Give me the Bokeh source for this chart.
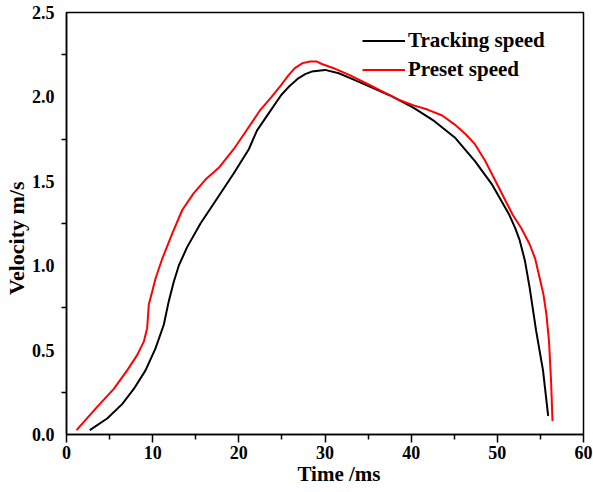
from bokeh.plotting import figure
from bokeh.embed import file_html
from bokeh.resources import INLINE
from bokeh.models import Legend, LegendItem, FixedTicker, PrintfTickFormatter

# Preset speed (red)
preset_t = [1.16, 3.56, 5.49, 7.04, 8.2, 8.97, 9.36, 9.55, 9.94, 10.33, 11.1, 12.27, 13.43, 14.77,
            16.13, 17.67, 19.4, 21.0, 22.53, 23.8, 24.9, 25.8, 26.5, 27.4, 28.26, 29.0, 29.64,
            31.0, 32.8, 35.0, 37.15, 38.7, 40.3, 41.9, 43.6, 45.06, 46.3, 47.4, 48.6, 49.8,
            50.8, 51.8, 52.8, 53.75, 54.4, 54.9, 55.35, 55.7, 56.0, 56.25, 56.4]
preset_v = [0.026, 0.164, 0.27, 0.38, 0.47, 0.55, 0.63, 0.77, 0.845, 0.924, 1.04, 1.19, 1.33, 1.43,
            1.51, 1.58, 1.69, 1.81, 1.925, 2.0, 2.07, 2.13, 2.17, 2.20, 2.21, 2.21, 2.195,
            2.17, 2.13, 2.075, 2.02, 1.98, 1.95, 1.925, 1.89, 1.836, 1.78, 1.72, 1.62, 1.50,
            1.40, 1.30, 1.22, 1.127, 1.04, 0.93, 0.83, 0.71, 0.55, 0.30, 0.08]

# Tracking speed (black)
track_t = [2.7, 4.72, 6.46, 7.81, 9.17, 10.33, 11.29, 11.87, 12.45, 13.03, 14.0, 15.55, 17.5,
           19.4, 21.16, 22.1, 23.5, 24.9, 25.9, 26.9, 27.7, 28.46, 30.0, 31.6, 33.2, 34.8,
           37.5, 40.3, 42.7, 45.06, 47.4, 49.4, 51.4, 52.1, 52.6, 53.2, 53.75, 54.5, 55.3, 55.9]
track_v = [0.026, 0.095, 0.18, 0.27, 0.38, 0.51, 0.65, 0.79, 0.905, 1.00, 1.11, 1.25, 1.40,
           1.546, 1.69, 1.80, 1.905, 2.01, 2.065, 2.11, 2.135, 2.15, 2.16, 2.14, 2.105, 2.07,
           2.01, 1.935, 1.856, 1.76, 1.62, 1.48, 1.30, 1.22, 1.15, 1.03, 0.87, 0.615, 0.38, 0.11]

x_ticks = [0, 10, 20, 30, 40, 50, 60]
x_minor = [5, 15, 25, 35, 45, 55]
y_ticks = [0.0, 0.5, 1.0, 1.5, 2.0, 2.5]
y_minor = [0.25, 0.75, 1.25, 1.75, 2.25]

FONT = "Liberation Serif"

p = figure(output_backend="svg", toolbar_location=None,
           x_range=(0, 60), y_range=(0, 2.5),
           frame_width=517, frame_height=422,
           min_border_left=58, min_border_right=10, min_border_top=12, min_border_bottom=56)
p.grid.visible = False
p.outline_line_color = "black"
p.outline_line_width = 1.5
p.background_fill_color = "white"
p.border_fill_color = "white"

r_track = p.line(track_t, track_v, line_color="black", line_width=2, line_join="round")
r_pre = p.line(preset_t, preset_v, line_color="#ff0000", line_width=2, line_join="round")

# X axis
xa = p.xaxis[0]
xa.ticker = FixedTicker(ticks=x_ticks, minor_ticks=x_minor)
xa.axis_line_color = "black"
xa.major_tick_line_color = "black"
xa.minor_tick_line_color = "black"
xa.major_tick_out = 8
xa.major_tick_in = 0
xa.minor_tick_out = 5
xa.minor_tick_in = 0
xa.axis_line_width = 1.5
xa.major_tick_line_width = 1.5
xa.minor_tick_line_width = 1.5
xa.major_label_standoff = 3
xa.major_label_text_font = FONT
xa.major_label_text_font_style = "bold"
xa.major_label_text_font_size = "18px"
xa.major_label_text_color = "black"
xa.axis_label = "\u2003\u2004Time /ms"
xa.axis_label_text_font = FONT
xa.axis_label_text_font_style = "bold"
xa.axis_label_text_font_size = "21px"
xa.axis_label_text_color = "black"
xa.axis_label_standoff = 0

# Y axis
ya = p.yaxis[0]
ya.ticker = FixedTicker(ticks=y_ticks, minor_ticks=y_minor)
ya.formatter = PrintfTickFormatter(format="%.1f")
ya.axis_line_color = "black"
ya.minor_tick_line_color = "black"
ya.major_tick_out = 0
ya.major_tick_in = 0
ya.minor_tick_out = 5
ya.minor_tick_in = 0
ya.axis_line_width = 1.5
ya.minor_tick_line_width = 1.5
ya.major_label_standoff = 7
ya.major_label_text_font = FONT
ya.major_label_text_font_style = "bold"
ya.major_label_text_font_size = "18px"
ya.major_label_text_color = "black"
ya.axis_label = "Velocity m/s\u2003\u2004"
ya.axis_label_text_font = FONT
ya.axis_label_text_font_style = "bold"
ya.axis_label_text_font_size = "22px"
ya.axis_label_text_color = "black"
ya.axis_label_standoff = 0

legend = Legend(items=[LegendItem(label="Tracking speed", renderers=[r_track]),
                       LegendItem(label="Preset speed", renderers=[r_pre])],
                location=(296, 350), orientation="vertical",
                glyph_width=43, glyph_height=29, label_height=29, label_standoff=3,
                spacing=0, padding=0, margin=0,
                border_line_color=None, background_fill_alpha=0,
                label_text_font=FONT, label_text_font_style="bold",
                label_text_font_size="21px", label_text_color="black")
p.add_layout(legend, "center")

open("out.html", "w").write(file_html(p, INLINE))
